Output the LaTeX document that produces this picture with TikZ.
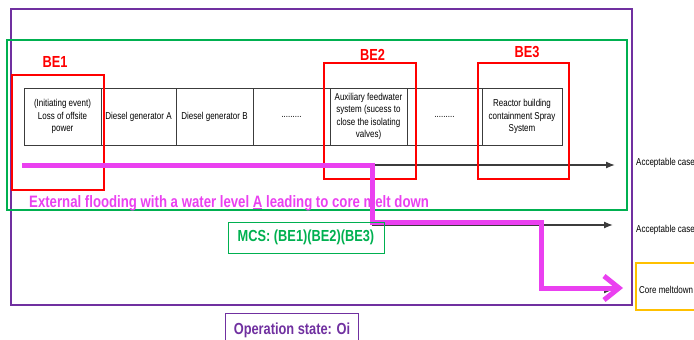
\documentclass[tikz,border=0pt]{standalone}
\usepackage{fontspec}
\setmainfont{Liberation Sans}[FakeStretch=0.8]
\usetikzlibrary{arrows.meta}
\definecolor{mag}{RGB}{234,64,240}
\definecolor{grn}{RGB}{0,176,80}
\definecolor{pur}{RGB}{112,48,160}
\definecolor{org}{RGB}{255,192,0}
\definecolor{tbl}{RGB}{60,60,60}
\tikzset{
  cell/.style={draw=tbl, line width=0.9pt, minimum height=57pt, inner sep=0pt, align=center,
    font=\fontsize{10}{12.5}\selectfont, text=black},
  redbox/.style={draw=red, line width=2pt},
  belabel/.style={text=red, font=\fontsize{16}{18}\selectfont\bfseries},
  blackarrow/.style={draw=tbl, line width=1.3pt, -{Latex[length=9pt,width=7pt]}},
  sidetext/.style={anchor=west, inner sep=0pt, font=\fontsize{10}{12}\selectfont},
}
\begin{document}
\begin{tikzpicture}[x=1pt,y=-1pt]
\useasboundingbox (0,0) rectangle (694,340);
% outer boxes
\draw[pur, line width=2pt] (11,9) rectangle (632,305);
\draw[grn, line width=2pt] (7,40) rectangle (627,210);
% table
\node[cell, minimum width=77pt] (c1) at (62.5,116.5) {(Initiating event)\\Loss of offsite\\power};
\node[cell, minimum width=75pt] (c2) at (138.5,116.5) {Diesel generator A};
\node[cell, minimum width=77pt] (c3) at (214.5,116.5) {Diesel generator B};
\node[cell, minimum width=77pt] (c4) at (291.5,116.5) {.........};
\node[cell, minimum width=77pt] (c5) at (368.5,116.5) {Auxiliary feedwater\\system (sucess to\\close the isolating\\valves)};
\node[cell, minimum width=75pt] (c6) at (444.5,116.5) {.........};
\node[cell, minimum width=80pt] (c7) at (522,116.5) {Reactor building\\containment Spray\\System};
% right-side outcomes
\coordinate (s1) at (24,165);
\coordinate (t1) at (615,165);
\node[sidetext] (o1) at (636,163) {Acceptable case};
\coordinate (s2) at (372,225);
\coordinate (t2) at (613,225);
\node[sidetext] (o2) at (636,230) {Acceptable case};
\coordinate (s3) at (540,290);
\coordinate (t3) at (613,290);
\node[sidetext] (o3) at (639,290) {Core meltdown};
\draw[org, line width=2pt] (700,263) -- (636,263) -- (636,310) -- (700,310);
\draw[blackarrow] (s1) -- (t1);
\draw[blackarrow] (s2) -- (t2);
\draw[blackarrow] (s3) -- (t3);
% red boxes
\draw[redbox] (12,75) rectangle (104,190);
\draw[redbox] (324,63) rectangle (416,179);
\draw[redbox] (478,63) rectangle (569,179);
\node[belabel] (be1) at (55,62) {BE1};
\node[belabel] (be2) at (372.5,55) {BE2};
\node[belabel] (be3) at (527,52) {BE3};
% magenta path
\coordinate (m0) at (22,165.5);
\coordinate (m1) at (372,165.5);
\coordinate (m2) at (372,222);
\coordinate (m3) at (541,222);
\coordinate (m4) at (541,288);
\coordinate (m5) at (623,288);
\draw[mag, line width=5pt, line join=miter, -{Straight Barb[length=15pt,width=24pt]}]
  (m0) -- (m1) -- (m2) -- (m3) -- (m4) -- (m5);
\node[text=mag, font=\fontsize{16.5}{19}\selectfont\bfseries, anchor=west, inner sep=0pt] (flood) at (29,203)
  {External flooding with a water level \underline{A} leading to core melt down};
% MCS and operation state
\node[draw=grn, line width=1pt, text=grn, minimum width=156pt, minimum height=31pt,
  font=\fontsize{16}{18}\selectfont\bfseries] (mcs) at (306,237.5) {MCS: (BE1)(BE2)(BE3)};
\node[draw=pur, line width=1pt, text=pur, minimum width=133pt, minimum height=34pt,
  font=\fontsize{16}{18}\selectfont\bfseries] (ops) at (292,330) {Operation state: Oi};
\end{tikzpicture}
\end{document}
